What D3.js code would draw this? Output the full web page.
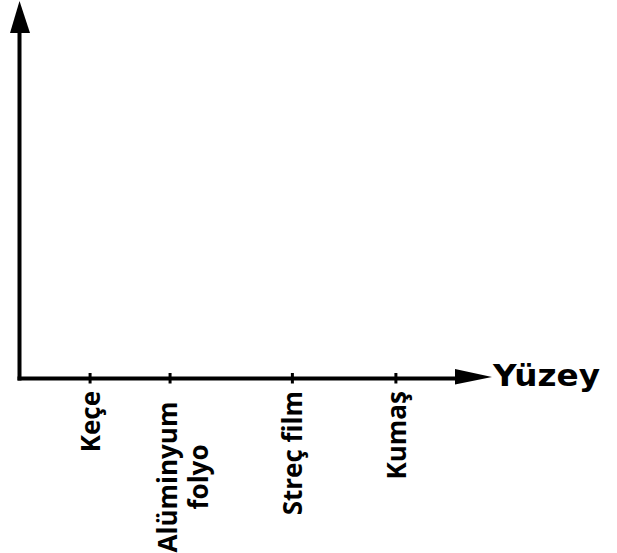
<!DOCTYPE html>
<html><head><meta charset="utf-8">
<script src="https://cdn.jsdelivr.net/npm/d3@7"></script>
<style>body{margin:0;background:#fff}</style>
</head><body>
<svg id="c" width="617" height="553"></svg>
<script>
// Data
const categories = [["Keçe"], ["Alüminyum", "folyo"], ["Streç film"], ["Kumaş"]];
const positions = [1.5, 3.2, 5.8, 8.0];
const xAxisTitle = "Yüzey";

const svg = d3.select("#c");
const x0 = 19.5, yAxisY = 378.5;
const x = d3.scaleLinear().domain([0, 10]).range([x0, 490]);

// axes lines
svg.append("line").attr("x1", x0).attr("x2", x0).attr("y1", 30).attr("y2", yAxisY + 2)
  .attr("stroke", "#000").attr("stroke-width", 4);
svg.append("line").attr("x1", x0 - 2).attr("x2", 458).attr("y1", yAxisY).attr("y2", yAxisY)
  .attr("stroke", "#000").attr("stroke-width", 4);
// arrowheads
svg.append("path").attr("d", `M${x0},1 L${x0 + 10.5},33 L${x0 - 9.5},33 Z`).attr("fill", "#000");
svg.append("path").attr("d", `M492,${yAxisY - 1.5} L455,${yAxisY - 9.5} L455,${yAxisY + 6} Z`).attr("fill", "#000");

// ticks
svg.selectAll("line.tick").data(positions).join("line").attr("class", "tick")
  .attr("x1", d => x(d)).attr("x2", d => x(d))
  .attr("y1", yAxisY - 5.5).attr("y2", yAxisY + 5)
  .attr("stroke", "#000").attr("stroke-width", 3);

// axis title
svg.append("text").attr("x", 493).attr("y", 386).text(xAxisTitle)
  .attr("font-family", "DejaVu Sans").attr("font-weight", "bold").attr("font-size", 30)
  .attr("textLength", 107).attr("lengthAdjust", "spacingAndGlyphs").attr("fill", "#000");

// labels
const lineGap = 31;
const g = svg.selectAll("g.lab").data(categories).join("g").attr("class", "lab")
  .attr("transform", (d, i) => `translate(${x(positions[i])},391) rotate(-90)`);
g.each(function(lines) {
  const sel = d3.select(this);
  const n = lines.length;
  lines.forEach((t, j) => {
    sel.append("text").text(t)
      .attr("x", 0).attr("y", n === 1 ? 0 : (j - (n - 1) / 2) * lineGap + 12)
      .attr("dominant-baseline", "central")
      .attr("font-family", "Open Sans").attr("font-weight", "bold").attr("font-size", 26)
      .attr("fill", "#000");
  });
  if (n === 1) {
    sel.selectAll("text").attr("text-anchor", "end");
  } else {
    sel.selectAll("text").attr("text-anchor", "middle").attr("x", -86);
  }
});
</script>
</body></html>
